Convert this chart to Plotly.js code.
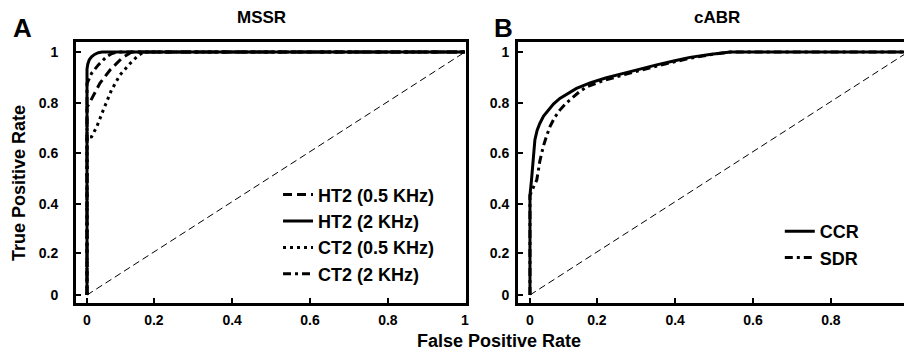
<!DOCTYPE html>
<html>
<head>
<meta charset="utf-8">
<script src="https://cdn.plot.ly/plotly-3.0.1.min.js"></script>
<style>html,body{margin:0;padding:0;background:#fff;}#chart{width:904px;height:352px;}</style>
</head>
<body>
<div id="chart"></div>
<script>
// ---- Panel A (MSSR) ROC curves ----
const ht2_05_fpr = [0, 0, 0.003, 0.017, 0.034, 0.061, 0.092, 0.118, 1];
const ht2_05_tpr = [0, 0.775, 0.78, 0.823, 0.871, 0.926, 0.974, 1, 1];
const ht2_2_fpr  = [0, 0, 0.002, 0.006, 0.012, 0.02, 0.03, 0.04, 1];
const ht2_2_tpr  = [0, 0.93, 0.95, 0.968, 0.98, 0.99, 0.997, 1, 1];
const ct2_05_fpr = [0, 0, 0.012, 0.026, 0.043, 0.065, 0.087, 0.114, 0.135, 0.15, 1];
const ct2_05_tpr = [0, 0.65, 0.651, 0.693, 0.761, 0.844, 0.905, 0.953, 0.985, 1, 1];
const ct2_2_fpr  = [0, 0, 0.012, 0.03, 0.052, 0.066, 0.08, 1];
const ct2_2_tpr  = [0, 0.87, 0.912, 0.947, 0.981, 0.994, 1, 1];
// ---- Panel B (cABR) ROC curves ----
const ccr_fpr = [0, 0, 0.004, 0.008, 0.013, 0.019, 0.026, 0.036, 0.048, 0.062, 0.079, 0.1, 0.123, 0.159, 0.2, 0.247, 0.29, 0.335, 0.38, 0.423, 0.48, 0.53, 1];
const ccr_tpr = [0, 0.41, 0.473, 0.56, 0.638, 0.678, 0.706, 0.736, 0.761, 0.786, 0.809, 0.83, 0.85, 0.873, 0.893, 0.912, 0.93, 0.947, 0.963, 0.978, 0.991, 1, 1];
const sdr_fpr = [0, 0, 0.008, 0.018, 0.026, 0.035, 0.044, 0.053, 0.065, 0.079, 0.096, 0.115, 0.132, 0.15, 0.2, 0.25, 0.3, 0.36, 0.42, 0.48, 0.53, 1];
const sdr_tpr = [0, 0.41, 0.44, 0.473, 0.55, 0.61, 0.655, 0.693, 0.73, 0.761, 0.79, 0.816, 0.838, 0.857, 0.885, 0.907, 0.928, 0.952, 0.973, 0.99, 1, 1];
// chance line
const chance = [0, 1];
// tick labels and their measured positions on the reference axes
const tickText = ['0', '0.2', '0.4', '0.6', '0.8', '1'];
const xTickPos = [0, 0.177, 0.384, 0.59, 0.796, 1];
const yTickPos = [0, 0.173, 0.374, 0.584, 0.79, 1];

const FONT = 'Liberation Sans, Arial, Helvetica, sans-serif';
const LW = 3;
function tr(x, y, name, dash, xa, ya, leg) {
  return {x: x, y: y, name: name, type: 'scatter', mode: 'lines',
    line: {color: '#000', width: LW, dash: dash, shape: 'linear'},
    xaxis: xa, yaxis: ya, legend: leg};
}
const data = [
  {x: chance, y: chance, type: 'scatter', mode: 'lines', showlegend: false, hoverinfo: 'skip',
   line: {color: '#000', width: 1, dash: '7px,4px'}, xaxis: 'x', yaxis: 'y'},
  {x: chance, y: chance, type: 'scatter', mode: 'lines', showlegend: false, hoverinfo: 'skip',
   line: {color: '#000', width: 1, dash: '7px,4px'}, xaxis: 'x2', yaxis: 'y2'},
  tr(ht2_05_fpr, ht2_05_tpr, 'HT2 (0.5 KHz)', '9px,5px', 'x', 'y', 'legend'),
  tr(ht2_2_fpr, ht2_2_tpr, 'HT2 (2 KHz)', 'solid', 'x', 'y', 'legend'),
  tr(ct2_05_fpr, ct2_05_tpr, 'CT2 (0.5 KHz)', '3px,4px', 'x', 'y', 'legend'),
  tr(ct2_2_fpr, ct2_2_tpr, 'CT2 (2 KHz)', '8px,4px,3px,4px', 'x', 'y', 'legend'),
  tr(ccr_fpr, ccr_tpr, 'CCR', 'solid', 'x2', 'y2', 'legend2'),
  tr(sdr_fpr, sdr_tpr, 'SDR', '8px,4px,3px,4px', 'x2', 'y2', 'legend2')
];
function xax(domain, range, standoff) {
  return {domain: domain, range: range, showgrid: false, zeroline: false,
    showline: true, linecolor: '#000', linewidth: LW, mirror: true,
    ticks: 'inside', ticklen: 5, tickwidth: 2, tickcolor: '#000',
    tickmode: 'array', tickvals: xTickPos, ticktext: tickText,
    ticklabelstandoff: standoff,
    tickfont: {family: FONT, size: 14, color: '#000', weight: 'bold'}};
}
function yax(anchor, mirror, standoff) {
  return {domain: [0, 1], range: [-0.0329, 1.0412], anchor: anchor, showgrid: false, zeroline: false,
    showline: true, linecolor: '#000', linewidth: LW, mirror: mirror,
    ticks: 'inside', ticklen: 5, tickwidth: 2, tickcolor: '#000',
    tickmode: 'array', tickvals: yTickPos, ticktext: tickText,
    ticklabelstandoff: standoff,
    tickfont: {family: FONT, size: 14, color: '#000', weight: 'bold'}};
}
const xa1 = xax([0, 0.471], [-0.0291, 1.0026], 2); xa1.anchor = 'y';
const xa2 = xax([0.5338, 1], [-0.0317, 0.9894], 2); xa2.anchor = 'y2';
const legFont = {family: FONT, size: 18, color: '#000', weight: 'bold'};
const layout = {
  width: 904, height: 352,
  margin: {l: 76, r: 0, t: 42, b: 49, pad: 0},
  paper_bgcolor: '#fff', plot_bgcolor: '#fff',
  font: {family: FONT, color: '#000'},
  xaxis: xa1, yaxis: yax('x', true, 12),
  xaxis2: xa2, yaxis2: yax('x2', false, 3),
  legend: {x: 0.244, y: 0.485, xanchor: 'left', yanchor: 'top', bgcolor: 'rgba(0,0,0,0)',
    font: legFont, itemwidth: 30, tracegroupgap: 0},
  legend2: {x: 0.85, y: 0.345, xanchor: 'left', yanchor: 'top', bgcolor: 'rgba(0,0,0,0)',
    font: legFont, itemwidth: 30, tracegroupgap: 0},
  annotations: [
    {text: '<b>MSSR</b>', xref: 'paper', yref: 'paper', x: 0.2246, y: 1.092, showarrow: false,
     xanchor: 'center', yanchor: 'middle', font: {family: FONT, size: 17, color: '#000'}},
    {text: '<b>cABR</b>', xref: 'paper', yref: 'paper', x: 0.774, y: 1.092, showarrow: false,
     xanchor: 'center', yanchor: 'middle', font: {family: FONT, size: 17, color: '#000'}},
    {text: '<b>A</b>', xref: 'paper', yref: 'paper', x: -0.0652, y: 1.054, showarrow: false,
     xanchor: 'center', yanchor: 'middle', font: {family: FONT, size: 26, color: '#000'}},
    {text: '<b>B</b>', xref: 'paper', yref: 'paper', x: 0.5169, y: 1.054, showarrow: false,
     xanchor: 'center', yanchor: 'middle', font: {family: FONT, size: 26, color: '#000'}},
    {text: '<b>True Positive Rate</b>', xref: 'paper', yref: 'paper', x: -0.0688, y: 0.46, textangle: -90,
     showarrow: false, xanchor: 'center', yanchor: 'middle', font: {family: FONT, size: 18, color: '#000'}},
    {text: '<b>False Positive Rate</b>', xref: 'paper', yref: 'paper', x: 0.511, y: -0.19,
     showarrow: false, xanchor: 'center', yanchor: 'bottom', font: {family: FONT, size: 18, color: '#000'}}
  ],
  showlegend: true
};
Plotly.newPlot('chart', data, layout, {displayModeBar: false, staticPlot: true});
</script>
</body>
</html>
